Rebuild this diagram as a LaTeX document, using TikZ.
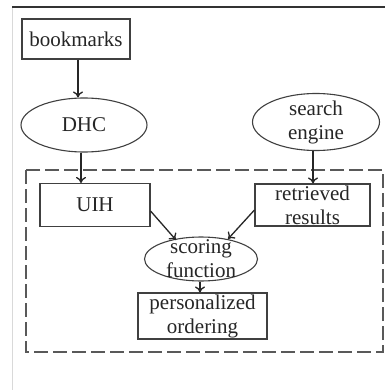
\documentclass[tikz,border=0pt]{standalone}
\usepackage{fontspec}
\setmainfont{Liberation Serif}
\usetikzlibrary{shapes.geometric,arrows.meta}
\begin{document}
\begin{tikzpicture}[x=1pt,y=-1pt,
  lbl/.style={font=\fontsize{21}{24}\selectfont, align=center, inner sep=0pt, text=black!85},
  boxn/.style={draw=black!75, line width=1.1pt, inner sep=0pt},
  elln/.style={ellipse, draw=black!75, line width=1.1pt, inner sep=0pt},
  arr/.style={-{To[length=6pt,width=10pt]}, line width=1.3pt, draw=black!85}]
\useasboundingbox (0,0) rectangle (385,390);
\fill[white] (0,0) rectangle (385,390);
% frame
\draw[black!80, line width=1.4pt] (12,7) -- (385,7);
\draw[black!15, line width=1pt] (12,8) -- (12,390);
% dashed area
\draw[black!65, line width=1.2pt, dash pattern=on 14pt off 5pt] (26,170) rectangle (383,352);
% nodes
\node[boxn, minimum width=108, minimum height=40] (bm) at (76,39) {};
\node[lbl] at (bm) {bookmarks};
\node[elln, minimum width=126, minimum height=54] (dhc) at (84,125) {};
\node[lbl] at (dhc) {DHC};
\node[elln, minimum width=127, minimum height=57] (se) at (316,122) {};
\node[lbl] at (se) {search\\engine};
\node[boxn, minimum width=110, minimum height=43] (uih) at (95,205) {};
\node[lbl] at (uih) {UIH};
\node[boxn, minimum width=115, minimum height=42] (rr) at (312.5,205) {};
\node[lbl] at (rr) {retrieved\\results};
\node[elln, minimum width=113, minimum height=44] (sf) at (201,259) {};
\node[lbl] at (sf) {scoring\\function};
\node[boxn, minimum width=129, minimum height=46] (po) at (202.5,316) {};
\node[lbl] at (po) {personalized\\ordering};
% arrows
\draw[arr] (bm.south -| 78,0) -- (dhc.north -| 78,0);
\draw[arr] (dhc.south -| 81,0) -- (uih.north -| 81,0);
\draw[arr] (se.south -| 313,0) -- (rr.north -| 313,0);
\draw[arr] (uih.east |- 0,211) -- (176,240);
\draw[arr] (rr.west |- 0,210) -- (228,239);
\draw[arr] (sf.south -| 200,0) -- (po.north -| 200,0);
\end{tikzpicture}
\end{document}
